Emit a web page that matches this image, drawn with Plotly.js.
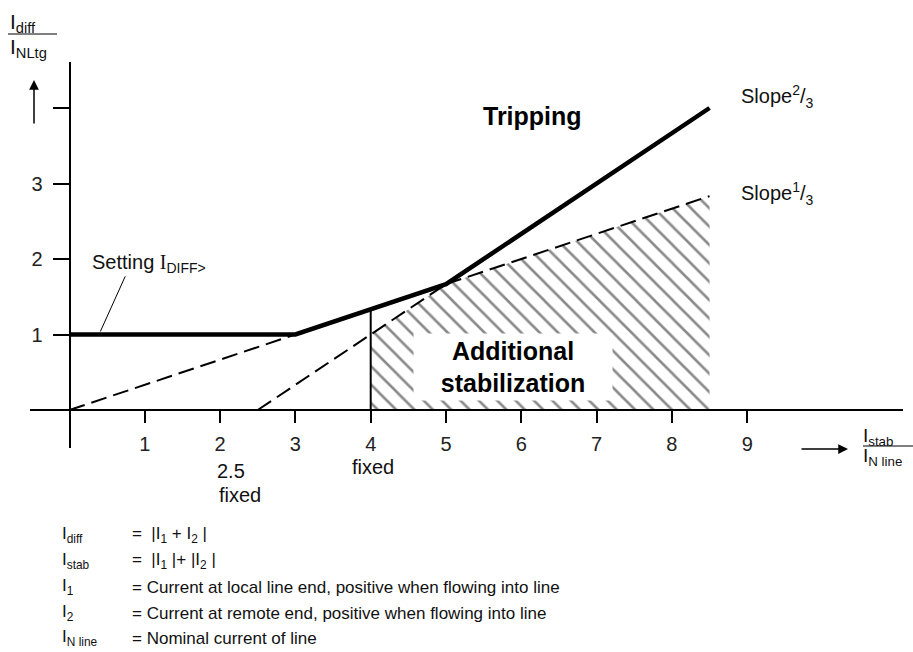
<!DOCTYPE html>
<html><head><meta charset="utf-8">
<script src="https://cdn.plot.ly/plotly-3.0.1.min.js"></script>
<style>html,body{margin:0;padding:0;background:#fff}#chart{width:913px;height:652px}</style>
</head><body><div id="chart"></div>
<script>
// ---- data ----
const xTickVals = [1, 2, 3, 4, 5, 6, 7, 8, 9];
const yTickVals = [1, 2, 3, 4];
const yTickText = ["1", "2", "3", ""];
const tripX = [0, 3, 5, 8.5];
const tripY = [1, 1, 1.667, 4];
const slope13LowX = [0, 3];
const slope13LowY = [0, 1];
const slope13HighX = [5, 8.5];
const slope13HighY = [1.667, 2.833];
const slope23X = [2.5, 5];
const slope23Y = [0, 1.667];
const fixedLineX = [4, 4];
const fixedLineY = [0, 1.333];
const stabX = [4, 4, 5, 8.5, 8.5, 4];
const stabY = [0, 1, 1.667, 2.833, 0, 0];

// ---- geometry ----
const W = 913, H = 652, L = 30, R = 10, T = 62, B = 204;
const PW = W - L - R, PH = H - T - B;
const px = X => (X - L) / PW;
const py = Y => (H - B - Y) / PH;
const ox = 69.5, oy = 410, ux = 75.3, uy = 75.5;
const xr = [-(ox - L) / ux, -(ox - L) / ux + PW / ux];
const yr = [-(H - B - oy) / uy, -(H - B - oy) / uy + PH / uy];

const FONT = "Liberation Sans, Arial, sans-serif";
const dash = "16px,7px";

const traces = [
  {x: stabX, y: stabY, type: "scatter", mode: "lines", fill: "toself",
   line: {width: 0, color: "rgba(0,0,0,0)"}, fillcolor: "white",
   fillpattern: {shape: "\\", fgcolor: "#8a8a8a", bgcolor: "white", size: 13, solidity: 0.2},
   hoverinfo: "skip"},
  {x: slope13LowX, y: slope13LowY, mode: "lines", line: {color: "#000", width: 2, dash: dash}},
  {x: slope13HighX, y: slope13HighY, mode: "lines", line: {color: "#000", width: 2, dash: dash}},
  {x: slope23X, y: slope23Y, mode: "lines", line: {color: "#000", width: 2, dash: dash}},
  {x: fixedLineX, y: fixedLineY, mode: "lines", line: {color: "#000", width: 2}},
  {x: tripX, y: tripY, mode: "lines", line: {color: "#000", width: 4.5}}
];

function txt(text, X, Y, opts) {
  return Object.assign({text: text, xref: "paper", yref: "paper", x: px(X), y: py(Y),
    xanchor: "left", yanchor: "middle", showarrow: false,
    font: {family: FONT, size: 20, color: "#111"}}, opts || {});
}
function arrow(hx, hy, ax, ay) {
  return {text: "", xref: "paper", yref: "paper", x: px(hx), y: py(hy), ax: ax, ay: ay,
    showarrow: true, arrowhead: 2, arrowsize: 1.3, arrowwidth: 1.5, arrowcolor: "#000"};
}
const LF = {family: FONT, size: 17, color: "#111"};

const annotations = [
  txt("I<sub>diff</sub>", 8, 23, {font: {family: FONT, size: 21, color: "#111"}}),
  txt("I<sub>NLtg</sub>", 8, 48, {font: {family: FONT, size: 21, color: "#111"}}),
  arrow(34, 80, 0, 45),
  txt("I<sub>stab</sub>", 861, 437, {font: {family: FONT, size: 19, color: "#111"}}),
  txt("I<sub>N line</sub>", 861, 457, {font: {family: FONT, size: 19, color: "#111"}}),
  arrow(848, 449, -48, 0),
  txt("<b>Tripping</b>", 532, 116, {xanchor: "center", font: {family: FONT, size: 25, color: "#000"}}),
  txt("Slope<sup>2</sup>/<sub>3</sub>", 739, 96),
  txt("Slope<sup>1</sup>/<sub>3</sub>", 739, 193),
  txt("Setting <span style=\"font-family:'Liberation Serif'\">I</span><sub>DIFF&gt;</sub>", 90, 263),
  txt("<b>Additional<br>stabilization</b>", 513, 367, {xanchor: "center", bgcolor: "white",
      width: 196, height: 64, font: {family: FONT, size: 25, color: "#000"}}),
  txt("2.5", 215, 471),
  txt("fixed", 217, 495),
  txt("fixed", 373, 467, {xanchor: "center"}),
  txt("I<sub>diff</sub>", 60, 535, {font: LF}),
  txt("I<sub>stab</sub>", 60, 561, {font: LF}),
  txt("I<sub>1</sub>", 60, 587, {font: LF}),
  txt("I<sub>2</sub>", 60, 613, {font: LF}),
  txt("I<sub>N line</sub>", 60, 638, {font: LF}),
  txt("=  |I<sub>1</sub> + I<sub>2</sub> |", 130, 535, {font: LF}),
  txt("=  |I<sub>1</sub> |+ |I<sub>2</sub> |", 130, 561, {font: LF}),
  txt("= Current at local line end, positive when flowing into line", 130, 587, {font: LF}),
  txt("= Current at remote end, positive when flowing into line", 130, 613, {font: LF}),
  txt("= Nominal current of line", 130, 638, {font: LF})
];

const shapes = [
  {type: "line", xref: "paper", yref: "paper", x0: px(8), x1: px(57), y0: py(34), y1: py(34), line: {color: "#000", width: 1}},
  {type: "line", xref: "paper", yref: "paper", x0: px(863), x1: px(913), y0: py(446), y1: py(446), line: {color: "#000", width: 1}},
  {type: "line", xref: "x", yref: "y", x0: 0.41, y0: 1.04, x1: 0.74, y1: 1.77, line: {color: "#000", width: 1}}
];

const layout = {
  width: W, height: H, margin: {l: L, r: R, t: T, b: B},
  paper_bgcolor: "white", plot_bgcolor: "white", showlegend: false,
  xaxis: {range: xr, anchor: "free", position: (H - B - oy) / PH, showline: true, linewidth: 2, linecolor: "#000",
    ticks: "outside", ticklen: 12, tickwidth: 2, tickcolor: "#000", tickvals: xTickVals,
    ticklabelstandoff: 4, showgrid: false, zeroline: false, fixedrange: true,
    tickfont: {family: FONT, size: 20, color: "#222"}},
  yaxis: {range: yr, anchor: "free", position: (ox - L) / PW, showline: true, linewidth: 2, linecolor: "#000",
    ticks: "outside", ticklen: 16, tickwidth: 2, tickcolor: "#000", tickvals: yTickVals, ticktext: yTickText,
    ticklabelstandoff: 6, showgrid: false, zeroline: false, fixedrange: true,
    tickfont: {family: FONT, size: 20, color: "#222"}},
  annotations: annotations, shapes: shapes
};

Plotly.newPlot("chart", traces, layout, {displayModeBar: false, staticPlot: true});
</script></body></html>
